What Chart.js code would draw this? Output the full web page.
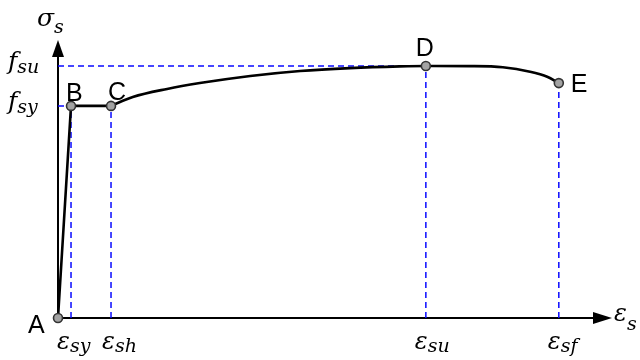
<!DOCTYPE html>
<html><head><meta charset="utf-8">
<script src="https://cdn.jsdelivr.net/npm/chart.js@4/dist/chart.umd.min.js"></script>
<style>html,body{margin:0;padding:0;background:#fff}</style>
</head><body>
<canvas id="c" width="640" height="360"></canvas>
<script>
// key points of the steel stress-strain curve (arbitrary units, 0-100)
const pointNames=["A","B","C","D","E"];
const keyStrain=[0,2.35,9.57,66.4,90.4];
const keyStress=[0,76.3,76.3,90.65,84.5];
// strain hardening + softening branch C -> D -> E
const curveStrain=[9.57,13.5,19.7,25.6,34.7,43.7,52.7,61.7,66.4,74.4,80.3,85.2,88.3,90.4];
const curveStress=[76.3,79.5,82.4,84.5,87.05,88.85,89.9,90.5,90.65,90.6,90.2,88.6,86.8,84.5];
// axis symbols: [main, subscript]
const strainTicks=[["ε","sy"],["ε","sh"],["ε","su"],["ε","sf"]]; // under B, C, D, E
const stressTicks=[["f","su"],["f","sy"]];                       // at D, B
const axisTitles={x:["ε","s"],y:["σ","s"]};

const BLUE="#0a0aff", SERIF='"DejaVu Serif","Liberation Serif",serif', SANS='"Liberation Sans",Arial,sans-serif';
const pts=keyStrain.map((x,i)=>({x,y:keyStress[i]}));
const guide=(a,b)=>({data:[a,b],borderColor:BLUE,borderWidth:1.5,borderDash:[6,4],pointRadius:0,clip:false});
const guides=[guide({x:0,y:keyStress[3]},pts[3]), guide({x:0,y:keyStress[1]},pts[1])]
  .concat([1,2,3,4].map(i=>guide({x:keyStrain[i],y:0},pts[i])));

function mathText(ctx,x,base,main,sub,size,subSize,drop){
  ctx.textAlign="left"; ctx.textBaseline="alphabetic"; ctx.fillStyle="#000";
  ctx.font="italic "+size+"px "+SERIF; ctx.fillText(main,x,base);
  const w=ctx.measureText(main).width;
  ctx.font="italic "+subSize+"px "+SERIF; ctx.fillText(sub,x+w,base+drop);
}

const decor={id:"decor",
  beforeDatasetsDraw(chart){
    const {ctx,scales:{x,y}}=chart; const x0=x.getPixelForValue(0), y0=y.getPixelForValue(0);
    const xt=x.getPixelForValue(100), yt=y.getPixelForValue(100);
    ctx.save(); ctx.strokeStyle="#000"; ctx.fillStyle="#000"; ctx.lineWidth=2;
    ctx.beginPath(); ctx.moveTo(x0,y0); ctx.lineTo(xt-16,y0); ctx.moveTo(x0,y0); ctx.lineTo(x0,yt+16); ctx.stroke();
    ctx.beginPath(); ctx.moveTo(xt,y0); ctx.lineTo(xt-19,y0-6); ctx.lineTo(xt-19,y0+6); ctx.closePath(); ctx.fill();
    ctx.beginPath(); ctx.moveTo(x0,yt); ctx.lineTo(x0-6,yt+17); ctx.lineTo(x0+6,yt+17); ctx.closePath(); ctx.fill();
    ctx.restore();
  },
  afterDatasetsDraw(chart){
    const {ctx,scales:{x,y}}=chart; const y0=y.getPixelForValue(0);
    ctx.save();
    const tickOff=[-14,-9,-11,-11];
    [1,2,3,4].forEach((k,i)=>mathText(ctx,x.getPixelForValue(keyStrain[k])+tickOff[i],y0+31,strainTicks[i][0],strainTicks[i][1],24,19,3));
    [3,1].forEach((k,i)=>mathText(ctx,8,y.getPixelForValue(keyStress[k])+3,stressTicks[i][0],stressTicks[i][1],25,19,4));
    mathText(ctx,37,26,axisTitles.y[0],axisTitles.y[1],25,19,7);
    mathText(ctx,614,y0+3,axisTitles.x[0],axisTitles.x[1],24,19,9);
    const off=[[-30,15],[-5,-5],[-3,-6],[-10,-10],[12,9]];
    ctx.font="25px "+SANS; ctx.fillStyle="#000"; ctx.textAlign="left";
    pointNames.forEach((n,i)=>ctx.fillText(n,x.getPixelForValue(keyStrain[i])+off[i][0],y.getPixelForValue(keyStress[i])+off[i][1]));
    ctx.restore();
  }
};

new Chart(document.getElementById("c"),{
  type:"scatter",
  data:{datasets:[
    {data:pts,showLine:false,pointRadius:4.5,pointBackgroundColor:"#a3a3a3",pointBorderColor:"#333",pointBorderWidth:1.6,clip:false},
    {data:pts.slice(0,3),showLine:true,borderColor:"#000",borderWidth:2.6,pointRadius:0,clip:false},
    {data:curveStrain.map((v,i)=>({x:v,y:curveStress[i]})),showLine:true,cubicInterpolationMode:"monotone",borderColor:"#000",borderWidth:2.6,pointRadius:0,clip:false}
  ].concat(guides.map(g=>Object.assign(g,{showLine:true})))},
  options:{responsive:false,animation:false,devicePixelRatio:1,
    layout:{padding:{left:58,right:28,top:40,bottom:42}},
    scales:{x:{type:"linear",min:0,max:100,display:false},y:{min:0,max:100,display:false}},
    plugins:{legend:{display:false},tooltip:{enabled:false}}},
  plugins:[decor]
});
</script>
</body></html>
